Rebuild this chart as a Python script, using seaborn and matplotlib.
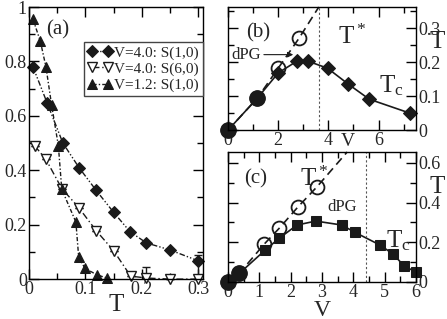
import numpy as np
import matplotlib
matplotlib.use("Agg")
import matplotlib.pyplot as plt
import seaborn as sns
from matplotlib.ticker import MultipleLocator

# ---- panel (a): order parameter vs T ----
t_d40_s10 = [0.007, 0.032, 0.06, 0.0885, 0.119, 0.150, 0.179, 0.208, 0.25, 0.30]
s_d40_s10 = [0.78, 0.648, 0.50, 0.41, 0.326, 0.245, 0.174, 0.133, 0.107, 0.067]

t_d40_s60 = [0.01, 0.03, 0.058, 0.088, 0.119, 0.150, 0.18, 0.208, 0.25, 0.30]
s_d40_s60 = [0.49, 0.44, 0.333, 0.263, 0.178, 0.104, 0.011, 0.004, 0.0, 0.0]
err_d40_s60 = [0, 0, 0, 0, 0, 0, 0, 0.04, 0, 0.09]

t_d12_s10 = [0.007, 0.02, 0.03, 0.04, 0.052, 0.058, 0.083, 0.088, 0.099, 0.12, 0.138]
s_d12_s10 = [0.955, 0.875, 0.78, 0.64, 0.49, 0.33, 0.21, 0.08, 0.04, 0.016, 0.004]

# ---- panel (b) ----
vb_tc = [0.0, 1.17, 2.0, 2.75, 3.18, 3.97, 4.8, 5.63, 7.25]
tb_tc = [0.0, 0.094, 0.168, 0.203, 0.203, 0.182, 0.135, 0.091, 0.05]
vb_ts = [0.0, 1.17, 2.0, 2.83]
tb_ts = [0.0, 0.094, 0.182, 0.27]
vb_ts_line = [0.0, 1.17, 2.0, 2.83, 3.62]
tb_ts_line = [0.0, 0.094, 0.182, 0.27, 0.362]
vb_same = [0.0, 1.17]
tb_same = [0.0, 0.094]
vb_dpg = 3.62

# ---- panel (c) ----
vc_tc = [0.0, 0.36, 1.18, 1.63, 2.2, 2.8, 3.63, 4.05, 4.85, 5.27, 5.62, 6.0]
tc_tc = [0.0, 0.043, 0.16, 0.22, 0.287, 0.307, 0.287, 0.25, 0.186, 0.14, 0.08, 0.05]
vc_ts = [0.0, 0.36, 1.15, 1.63, 2.23, 2.84]
tc_ts = [0.0, 0.043, 0.19, 0.27, 0.378, 0.48]
vc_ts_line = [0.0, 0.36, 1.15, 1.63, 2.23, 2.84, 3.8]
tc_ts_line = [0.0, 0.043, 0.19, 0.27, 0.378, 0.48, 0.655]
vc_same = [0.0, 0.36]
tc_same = [0.0, 0.043]
vc_dpg = 4.4

sns.set_theme(style="ticks")
plt.rcParams["font.family"] = ["Liberation Serif", "DejaVu Serif"]
plt.rcParams["mathtext.fontset"] = "custom"
plt.rcParams["mathtext.rm"] = "Liberation Serif"
plt.rcParams["mathtext.it"] = "Liberation Serif"
plt.rcParams["axes.linewidth"] = 1.0
plt.rcParams["axes.edgecolor"] = "black"

FS_TICK = 13
FS_BIG = 18

fig = plt.figure(figsize=(4.47, 3.19), dpi=100)
ax_a = fig.add_axes([0.0649, 0.125, 0.454 - 0.0649, 0.978 - 0.125])
ax_b = fig.add_axes([0.510, 0.592, 0.931 - 0.510, 0.978 - 0.592])
ax_c = fig.add_axes([0.510, 0.116, 0.931 - 0.510, 0.5235 - 0.116])


def style_ticks(ax, xmaj, xmin, ymaj, ymin, right_labels=False):
    ax.xaxis.set_major_locator(MultipleLocator(xmaj))
    ax.xaxis.set_minor_locator(MultipleLocator(xmin))
    ax.yaxis.set_major_locator(MultipleLocator(ymaj))
    ax.yaxis.set_minor_locator(MultipleLocator(ymin))
    ax.tick_params(which="both", direction="in", top=True, right=True,
                   left=True, bottom=True, color="black", width=1.0,
                   labelsize=FS_TICK, pad=1.5)
    ax.tick_params(which="major", length=7)
    ax.tick_params(which="minor", length=4)
    if right_labels:
        ax.tick_params(axis="y", labelleft=False, labelright=True)
    for s in ax.spines.values():
        s.set_visible(True)
        s.set_color("black")


def fmt(v, pos):
    return "0" if abs(v) < 1e-9 else ("%g" % v)


# ---- (a) ----
sns.lineplot(x=t_d40_s10, y=s_d40_s10, ax=ax_a, color="k", marker="D",
             markersize=6, markeredgecolor="k", linewidth=1.0,
             linestyle=(0, (4, 1.5, 1, 1.5, 1, 1.5)), label="V=4.0: S(1,0)",
             errorbar=None, sort=False)
sns.lineplot(x=t_d40_s60, y=s_d40_s60, ax=ax_a, color="k", marker="v",
             markersize=7.5, markerfacecolor="white", markeredgecolor="k",
             markeredgewidth=1.0, linewidth=1.0,
             linestyle=(0, (5, 2, 1, 2)), label="V=4.0: S(6,0)",
             errorbar=None, sort=False)
ax_a.errorbar(t_d40_s60, s_d40_s60, yerr=[[0] * len(err_d40_s60), err_d40_s60],
              fmt="none", ecolor="k", elinewidth=1.0, capsize=3, zorder=1)
sns.lineplot(x=t_d12_s10, y=s_d12_s10, ax=ax_a, color="k", marker="^",
             markersize=7.5, markeredgecolor="k", linewidth=1.0,
             linestyle=(0, (3, 1.5, 1, 1.5)), label="V=1.2: S(1,0)",
             errorbar=None, sort=False)
ax_a.set_xlim(0, 0.308)
ax_a.set_ylim(0, 1.0)
style_ticks(ax_a, 0.1, 0.05, 0.2, 0.1)
ax_a.xaxis.set_major_formatter(plt.FuncFormatter(fmt))
ax_a.yaxis.set_major_formatter(plt.FuncFormatter(fmt))
ax_a.set_xlabel("T", fontsize=FS_BIG, labelpad=-3)
ax_a.set_ylabel("")
ax_a.text(0.10, 0.915, "(a)", transform=ax_a.transAxes, fontsize=15,
          ha="left", va="center")
leg = ax_a.legend(loc="upper right", bbox_to_anchor=(1.0, 0.871),
                  borderaxespad=0, fontsize=11, numpoints=2,
                  handlelength=1.6, handletextpad=0.15, labelspacing=0.15,
                  borderpad=0.25, fancybox=False, framealpha=1,
                  edgecolor="#444444")
leg.get_frame().set_linewidth(1.0)

# ---- (b) ----
sns.lineplot(x=vb_ts_line, y=tb_ts_line, ax=ax_b, color="k", linewidth=1.2,
             linestyle=(0, (5, 3)), errorbar=None, sort=False)
sns.lineplot(x=vb_tc, y=tb_tc, ax=ax_b, color="k", marker="D", markersize=7.5,
             markeredgecolor="k", linewidth=1.2, errorbar=None, sort=False)
ax_b.plot(vb_ts, tb_ts, linestyle="none", marker="o", markersize=10,
          markerfacecolor="none", markeredgecolor="k", markeredgewidth=1.3)
ax_b.plot(vb_same, tb_same, linestyle="none", marker="o", markersize=11,
          color="k")
ax_b.axvline(vb_dpg, color="#555555", linestyle=(0, (2, 2)), linewidth=0.8)
ax_b.set_xlim(0, 7.5)
ax_b.set_ylim(0, 0.362)
style_ticks(ax_b, 2, 1, 0.1, 0.05, right_labels=True)
ax_b.xaxis.set_major_formatter(plt.FuncFormatter(fmt))
ax_b.yaxis.set_major_formatter(plt.FuncFormatter(fmt))
ax_b.set_xlabel("")
ax_b.set_ylabel("")
ax_b.text(0.73, 0.285, "(b)", fontsize=15, ha="left", va="center")
ax_b.text(4.4, 0.275, r"T$^*$", fontsize=FS_BIG, ha="left", va="center")
ax_b.text(6.0, 0.13, r"T$_{\rm c}$", fontsize=FS_BIG, ha="left",
          va="center")
ax_b.annotate("dPG", xy=(2.6, 0.222), xytext=(0.12, 0.222), fontsize=12,
              ha="left", va="center",
              arrowprops=dict(arrowstyle="-|>", color="k", lw=0.8,
                              shrinkA=0, shrinkB=0, mutation_scale=8))
ax_b.text(4.78, -0.008, "V", fontsize=FS_TICK + 1, ha="center", va="top")
ax_b.text(1.07, 0.26, "T", transform=ax_b.get_yaxis_transform(),
          fontsize=FS_BIG, ha="left", va="center", clip_on=False)

# ---- (c) ----
sns.lineplot(x=vc_ts_line, y=tc_ts_line, ax=ax_c, color="k", linewidth=1.2,
             linestyle=(0, (5, 3)), errorbar=None, sort=False)
sns.lineplot(x=vc_tc, y=tc_tc, ax=ax_c, color="k", marker="s", markersize=7.5,
             markeredgecolor="k", linewidth=1.2, errorbar=None, sort=False)
ax_c.plot(vc_ts, tc_ts, linestyle="none", marker="o", markersize=10,
          markerfacecolor="none", markeredgecolor="k", markeredgewidth=1.3)
ax_c.plot(vc_same, tc_same, linestyle="none", marker="o", markersize=11,
          color="k")
ax_c.axvline(vc_dpg, color="#555555", linestyle=(0, (2, 2)), linewidth=0.8)
ax_c.set_xlim(0, 6)
ax_c.set_ylim(0, 0.655)
style_ticks(ax_c, 1, 0.5, 0.2, 0.1, right_labels=True)
ax_c.xaxis.set_major_formatter(plt.FuncFormatter(fmt))
ax_c.yaxis.set_major_formatter(plt.FuncFormatter(fmt))
ax_c.set_xlabel("V", fontsize=17, va="top")
ax_c.xaxis.set_label_coords(0.5, -0.135)
ax_c.set_ylabel("")
ax_c.text(0.5, 0.52, "(c)", fontsize=15, ha="left", va="center")
ax_c.text(2.3, 0.52, r"T$^*$", fontsize=FS_BIG, ha="left", va="center")
ax_c.text(3.65, 0.38, "dPG", fontsize=12, ha="center", va="center")
ax_c.text(5.05, 0.21, r"T$_{\rm c}$", fontsize=FS_BIG, ha="left",
          va="center")
ax_c.text(1.07, 0.48, "T", transform=ax_c.get_yaxis_transform(),
          fontsize=FS_BIG, ha="left", va="center", clip_on=False)

for ax in (ax_a, ax_b, ax_c):
    for line in ax.get_lines():
        line.set_clip_on(False)

fig.savefig("out.png", dpi=100)
